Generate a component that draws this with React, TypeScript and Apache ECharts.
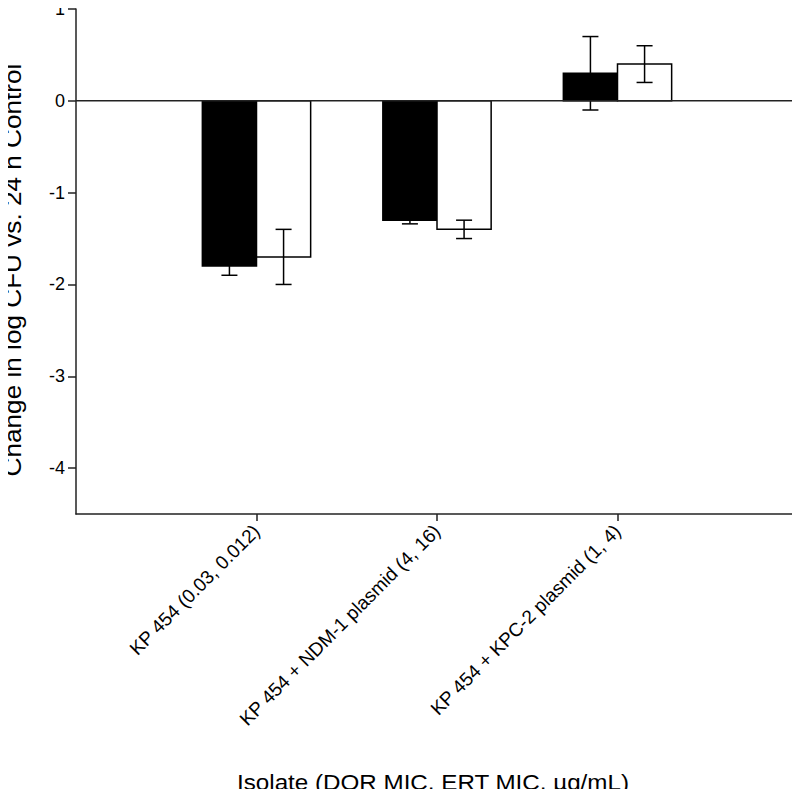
import React, { useEffect, useRef } from "react";
import * as echarts from "echarts";

const categories = [
  "KP 454 (0.03, 0.012)",
  "KP 454 + NDM-1 plasmid (4, 16)",
  "KP 454 + KPC-2 plasmid (1, 4)",
];
const categoryPositions = [1, 2, 3];
const darkValues = [-1.8, -1.3, 0.3];
const darkErrors = [0.1, 0.04, 0.4];
const lightValues = [-1.7, -1.4, 0.4];
const lightErrors = [0.3, 0.1, 0.2];
const yTicks = [-4, -3, -2, -1, 0, 1];
const xRange = [0, 4];
const yRange = [-4.5, 1];
const yTitle = "Change in log CFU vs. 24 h Control";
const xTitle = "Isolate (DOR MIC, ERT MIC, µg/mL)";

const FONT = "'Liberation Sans', Arial, sans-serif";

function makeRender(side: number, fill: string) {
  return (params: any, api: any) => {
    const cat = api.value(0);
    const v = api.value(1);
    const e = api.value(2);
    const base = api.coord([cat, 0]);
    const top = api.coord([cat, v]);
    const w = api.size([0.3, 0])[0];
    const x0 = side < 0 ? base[0] - w : base[0];
    const cx = x0 + w / 2;
    const yHi = api.coord([cat, v + e])[1];
    const yLo = api.coord([cat, v - e])[1];
    const cap = 8;
    const ls = { stroke: "#000", lineWidth: 1.5 };
    return {
      type: "group",
      children: [
        {
          type: "rect",
          shape: {
            x: x0,
            y: Math.min(base[1], top[1]),
            width: w,
            height: Math.abs(base[1] - top[1]),
          },
          style: { fill, stroke: "#000", lineWidth: 1.5 },
        },
        { type: "line", shape: { x1: cx, y1: yHi, x2: cx, y2: yLo }, style: ls },
        { type: "line", shape: { x1: cx - cap, y1: yHi, x2: cx + cap, y2: yHi }, style: ls },
        { type: "line", shape: { x1: cx - cap, y1: yLo, x2: cx + cap, y2: yLo }, style: ls },
      ],
    };
  };
}

export default function App() {
  const ref = useRef<HTMLDivElement>(null);
  useEffect(() => {
    if (!ref.current) return;
    const chart = echarts.init(ref.current, null, { renderer: "svg" });
    const axisLine = { show: true, onZero: false, lineStyle: { color: "#222", width: 1.5 } };
    chart.setOption({
      animation: false,
      backgroundColor: "#fff",
      grid: { left: 76, right: 2, top: 8, bottom: 283, containLabel: false },
      xAxis: {
        type: "value",
        min: xRange[0],
        max: xRange[1],
        interval: 1,
        axisLine,
        splitLine: { show: false },
        axisTick: {
          show: true,
          customValues: categoryPositions,
          length: 7,
          lineStyle: { color: "#222", width: 1.5 },
        },
        axisLabel: {
          customValues: categoryPositions,
          formatter: (v: number) => categories[categoryPositions.indexOf(v)] ?? "",
          rotate: 45,
          margin: 14,
          color: "#000",
          fontSize: 19,
          fontFamily: FONT,
        },
      },
      yAxis: {
        type: "value",
        min: yRange[0],
        max: yRange[1],
        axisLine,
        splitLine: { show: false },
        axisTick: {
          show: true,
          customValues: yTicks,
          length: 8,
          lineStyle: { color: "#222", width: 1.5 },
        },
        axisLabel: {
          customValues: yTicks,
          margin: 11,
          color: "#000",
          fontSize: 18,
          fontFamily: FONT,
        },
      },
      graphic: [
        {
          type: "text",
          x: 12,
          y: 270,
          rotation: Math.PI / 2,
          scaleX: 1.09,
          style: {
            text: yTitle,
            fontSize: 24,
            fontFamily: FONT,
            fill: "#000",
            align: "center",
            verticalAlign: "middle",
          },
        },
        {
          type: "text",
          x: 433,
          y: 782,
          scaleX: 1.1,
          style: {
            text: xTitle,
            fontSize: 22,
            fontFamily: FONT,
            fill: "#000",
            align: "center",
            verticalAlign: "middle",
          },
        },
      ],
      series: [
        {
          type: "custom",
          renderItem: makeRender(-1, "#000"),
          data: categoryPositions.map((c, i) => [c, darkValues[i], darkErrors[i]]),
          encode: { x: 0, y: 1 },
          z: 2,
        },
        {
          type: "custom",
          renderItem: makeRender(1, "#fff"),
          data: categoryPositions.map((c, i) => [c, lightValues[i], lightErrors[i]]),
          encode: { x: 0, y: 1 },
          z: 2,
        },
        {
          type: "line",
          data: [
            [xRange[0], 0],
            [xRange[1], 0],
          ],
          showSymbol: false,
          lineStyle: { color: "#222", width: 1.5 },
          z: 3,
          silent: true,
        },
      ],
    });
    return () => chart.dispose();
  }, []);
  return <div ref={ref} style={{ width: 800, height: 797, margin: -8 }} />;
}
